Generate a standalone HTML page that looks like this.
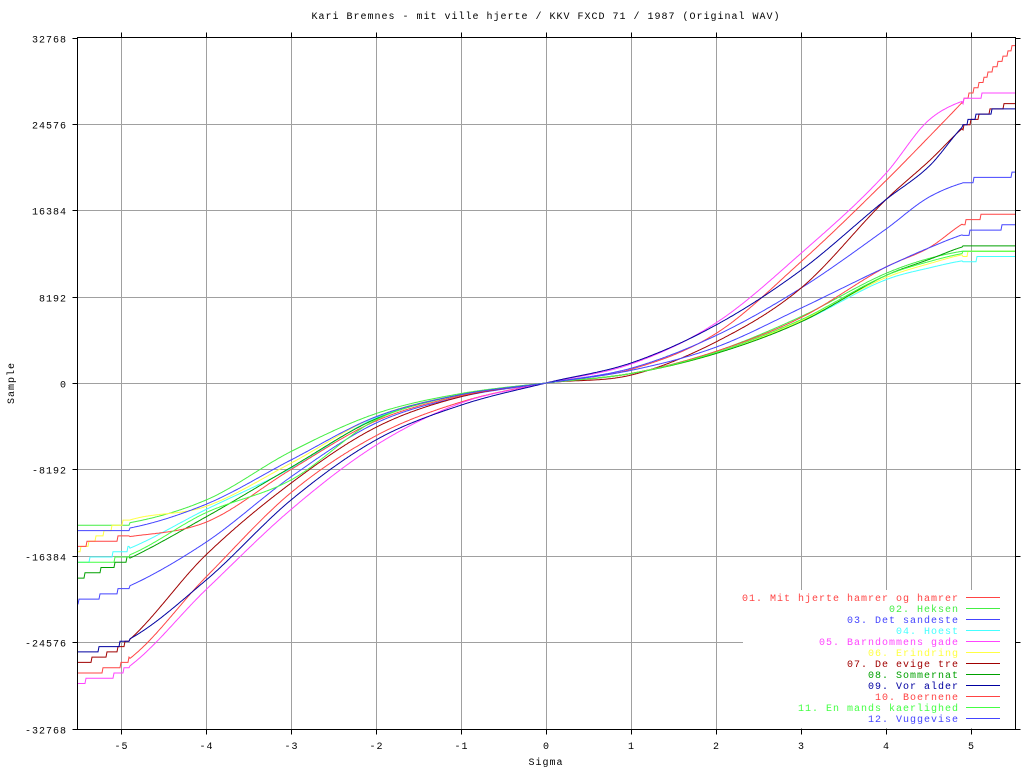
<!DOCTYPE html>
<html><head><meta charset="utf-8"><style>
html,body{margin:0;padding:0;background:#fff}
svg{display:block}
text{font-family:"Liberation Mono",monospace;font-size:10px;letter-spacing:1px}
</style></head><body>
<svg id="s" width="1024" height="768" xmlns="http://www.w3.org/2000/svg">
<rect width="1024" height="768" fill="#fff"/>
<text x="546" y="19" text-anchor="middle">Kari Bremnes - mit ville hjerte / KKV FXCD 71 / 1987 (Original WAV)</text>
<g id="grid" stroke="#a0a0a0" stroke-width="1"></g>
<g id="curves" fill="none" stroke-width="1"></g>
<rect x="743" y="590" width="270" height="138" fill="#fff"/>
<g id="legend"></g>
<g id="axes" stroke="#000" stroke-width="1" fill="none"></g>
<g id="labels"></g>
<text x="546" y="765" text-anchor="middle">Sigma</text>
<text transform="translate(14,383) rotate(-90)" text-anchor="middle">Sample</text>
</svg>
<script>
var NS="http://www.w3.org/2000/svg";
function el(t,a,p,txt){var e=document.createElementNS(NS,t);for(var k in a)e.setAttribute(k,a[k]);if(txt)e.textContent=txt;p.appendChild(e);return e;}
var L=77.5,R=1015.5,T=37.5,B=729.5;
function X(s){return 546+s*85;}
function Y(v){return 383-v*(345.5/32768);}
var grid=document.getElementById('grid'),axes=document.getElementById('axes'),lab=document.getElementById('labels');
for(var s=-5;s<=5;s++){var x=Math.round(X(s))+0.5;el('line',{x1:x,y1:T,x2:x,y2:B},grid);
el('line',{x1:x,y1:T-5,x2:x,y2:T},axes);el('line',{x1:x,y1:B,x2:x,y2:B+5},axes);
el('text',{x:x,y:749,'text-anchor':'middle'},lab,String(s));}
for(var i=-4;i<=4;i++){var v=i*8192,y=Math.round(Y(v))+0.5;
if(i>-4&&i<4){var x2=(i==-3)?743:R;el('line',{x1:L,y1:y,x2:x2,y2:y},grid);}
el('line',{x1:L-5,y1:y,x2:L,y2:y},axes);el('line',{x1:R,y1:y,x2:R+5,y2:y},axes);
el('text',{x:67,y:y+4,'text-anchor':'end'},lab,String(v));}
el('rect',{x:L,y:T,width:R-L,height:B-T},axes);
var S=[-5.52,-5,-4,-3,-2,-1,0,1,2,3,4,4.5,5,5.52];
var C=[
["01. Mit hjerte hamrer og hamrer","#ff4444",[-27.4,-26.7,-18.4,-10.4,-5.0,-1.8,0,1.3,4.7,11.5,19.2,23.3,27.5,32.1]],
["02. Heksen","#44ee44",[-13.6,-13.4,-11.1,-6.5,-2.9,-1.0,0,0.9,3,6.3,10.4,11.8,12.6,12.7]],
["03. Det sandeste","#4444ff",[-20.8,-19.6,-15.1,-8.9,-3.8,-1.3,0,1.4,4.5,9,14.6,17.6,19.2,19.8]],
["04. Hoest","#44ffff",[-17,-16,-12,-8.1,-3.3,-1.1,0,0.9,2.8,5.8,9.8,10.9,11.7,11.8]],
["05. Barndommens gade","#ff44ff",[-28.4,-27.4,-19.6,-12,-5.9,-1.9,0,1.8,5.7,12.3,19.9,24.9,27,27.6]],
["06. Erindring","#ffff44",[-16,-13.3,-11.7,-7.6,-3.2,-1.1,0,0.9,2.8,5.9,10,11.3,12.3,12.4]],
["07. De evige tre","#a00000",[-26.7,-25,-16.3,-9.5,-4.2,-1.3,0,0.75,3.9,9,17.4,21,24.8,26.7]],
["08. Sommernat","#00a000",[-18.5,-17,-12.7,-8,-3.4,-1.1,0,0.9,2.8,5.8,10.2,11.7,13.1,13.2]],
["09. Vor alder","#0000a0",[-25.5,-24.7,-18.7,-11.1,-5.4,-2.1,0,1.9,5.5,10.7,17.4,20.5,25,26.1]],
["10. Boernene","#ff4444",[-15.4,-14.7,-13.2,-8.2,-3.6,-1.2,0,0.9,3,6.2,11,12.8,15.5,15.9]],
["11. En mands kaerlighed","#44ff44",[-17,-16.6,-12.3,-9.2,-3.5,-1.1,0,0.9,2.9,6,10.2,11.5,12.4,12.5]],
["12. Vuggevise","#4444ff",[-14,-13.9,-11.5,-7.3,-3.2,-1.1,0,1.2,3.4,7.1,11,12.8,14.3,14.9]]];
function mono(xs,ys){var n=xs.length,d=[],m=[];for(var i=0;i<n-1;i++)d.push((ys[i+1]-ys[i])/(xs[i+1]-xs[i]));
m[0]=d[0];m[n-1]=d[n-2];for(i=1;i<n-1;i++){m[i]=(d[i-1]*d[i]<=0)?0:(d[i-1]+d[i])/2;}
return function(x){var i=0;while(i<n-2&&x>xs[i+1])i++;var h=xs[i+1]-xs[i],t=(x-xs[i])/h,t2=t*t,t3=t2*t;
return (2*t3-3*t2+1)*ys[i]+(t3-2*t2+t)*h*m[i]+(-2*t3+3*t2)*ys[i+1]+(t3-t2)*h*m[i+1];};}
var cg=document.getElementById('curves'),lg=document.getElementById('legend');
C.forEach(function(c,k){var f=mono(S,c[2]);var d="";
for(var px=78;px<=1015;px++){var s=(px-546)/85;var v=f(s)*1000;if(Math.abs(s)>4.9)v=Math.round(v/500)*500;
d+=(px==78?"M":"L")+px+","+Y(v).toFixed(1);}
el('path',{d:d,stroke:c[1]},cg);
var y=597+k*11;el('line',{x1:966,y1:y+0.5,x2:1000,y2:y+0.5,stroke:c[1]},lg);
el('text',{x:959,y:y+4,'text-anchor':'end',fill:c[1]},lg,c[0]);});
</script>
</body></html>
